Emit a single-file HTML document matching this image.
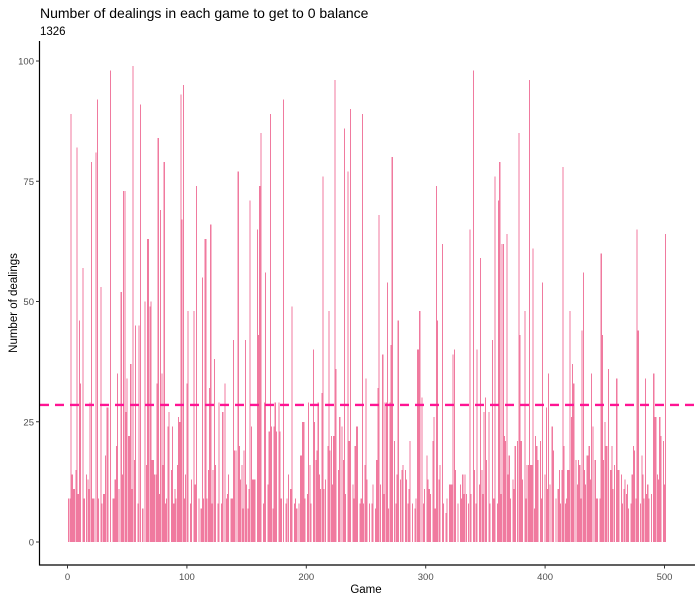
<!DOCTYPE html>
<html><head><meta charset="utf-8"><style>
body{margin:0;background:#fff;}
svg{display:block;font-family:"Liberation Sans",Arial,sans-serif;}
</style></head><body>
<svg id="chart" width="700" height="600" viewBox="0 0 700 600">
<rect width="700" height="600" fill="#fff"/>
<text x="40" y="18" font-size="14" fill="#000">Number of dealings in each game to get to 0 balance</text>
<text x="40" y="35" font-size="11.5" fill="#000">1326</text>
<text transform="translate(17,303) rotate(-90)" text-anchor="middle" font-size="11.5" fill="#000">Number of dealings</text>
<text x="366" y="593" text-anchor="middle" font-size="11.5" fill="#000">Game</text>
<g id="bars" shape-rendering="crispEdges"></g>
<g id="axes"></g>
</svg>
<script>
const seg1=[0,9,9,89,14,11,11,15,82,10,46,33,0,57,9,0,14,13,11,29,79,9,9,0,81,92,9,0,53,8,10,10,18,28,28,0,98,0,9,9,13,20,35,11,0,52,14,73,73,27,34,22,22,37,11,99,17,45,0,8,45,91,0,7,0,50,16,63,63,49,50,17,17,14,14,33,84,10,69,35,16];
const seg2=[79,8,9,24,27,0,15,24,8,11,9,16,26,25,93,67,95,9,14,33,48,0,8,13,0,48,12,74,0,9,0,7,55,9,63,63,9,15,32,66,8,15,38,16,0,8,29,0,8,27,0,33,9,10,14,0,9,9,42,19,19,0,77,20,13,16,7,19,42,12,7,11,71,24,13,13,13,0,65,43,74,85,0,8,29];
const seg3=[56,0,12,23,89,24,7,24,29,23,0,29,23,9,0,92,0,8,9,14,0,11,49,0,8,9,7,0,8,18,18,25,25,9,0,10,29,16,8,0,40,25,17,19,29,14,11,31,76,11,13,0,20,48,19,22,12,22,96,36,0,15,26,0,24,17,86,10,0,77,21,90,0,12,9,20,24,24,0,8,9,89,8,16];
const seg4=[34,13,0,8,0,8,12,0,7,17,32,68,12,0,39,10,29,29,54,7,29,41,80,0,21,8,14,46,0,13,15,16,0,15,13,8,11,21,0,8,0,7,9,40,40,48,0,30,8,11,0,18,13,11,10,0,21,26,7,74,46,13,16,0,62,8,0,6,9,0,12,12,12,39,40,15,0,8,0,12,9,14,10,14];
const seg5=[10,0,8,65,10,0,98,15,8,40,0,12,59,15,10,27,30,17,0,27,8,0,42,9,76,0,8,71,79,10,62,62,22,21,64,14,18,9,0,13,11,20,0,21,85,43,21,13,0,48,9,16,16,96,16,16,61,7,22,20,17,0,21,9,54,0,14,28,11,35,12,0,24,19,0,9,0,11,15,8,15,78,20,8];
const seg6=[9,15,15,48,26,37,33,0,17,12,17,16,9,44,56,15,12,18,18,20,13,35,24,0,17,9,9,0,9,60,43,17,25,20,20,36,0,15,20,11,16,0,34,15,15,0,14,8,11,13,10,12,7,0,8,14,20,19,9,65,44,0,8,18,14,9,34,10,12,9,0,10,0,35,26,26,14,13,26,22,0,21,12,64];
const dealings=[].concat(seg1,seg2,seg3,seg4,seg5,seg6);
const meanValue=28.5;
const yTicks=[0,25,50,75,100];
const xTicks=[0,100,200,300,400,500];

const NS="http://www.w3.org/2000/svg";
const x0=67.5, xs=1.194, y0=542, ys=4.81;
const X=g=>x0+g*xs;
const Y=v=>y0-v*ys;
const bars=document.getElementById('bars');
const axes=document.getElementById('axes');
function mk(tag,attrs,parent){const e=document.createElementNS(NS,tag);for(const k in attrs)e.setAttribute(k,attrs[k]);parent.appendChild(e);return e;}
dealings.forEach((v,i)=>{
  if(v<=0)return;
  const r=mk('rect',{x:X(i)-0.45*xs,y:Y(v),width:0.9*xs,height:v*ys,fill:'#F07A9F'},bars);
  
  
});
const ml=mk('line',{x1:40,x2:695,y1:Y(meanValue),y2:Y(meanValue),stroke:'#FF1493','stroke-width':2.3,'stroke-dasharray':'9,6'},axes);


const ya=mk('line',{x1:39.5,x2:39.5,y1:41,y2:565.5,stroke:'#000','stroke-width':1.2},axes);


const xa=mk('line',{x1:39,x2:695,y1:565,y2:565,stroke:'#000','stroke-width':1.2},axes);


yTicks.forEach(t=>{
  const tk=mk('line',{x1:36,x2:39.5,y1:Y(t),y2:Y(t),stroke:'#333','stroke-width':1},axes);
  
  
  const tl=mk('text',{x:34,y:Y(t)+3.5,'text-anchor':'end','font-size':9.5,fill:'#4D4D4D'},axes);
  tl.textContent=t;
  
  
});
xTicks.forEach(t=>{
  const tk=mk('line',{x1:X(t),x2:X(t),y1:565,y2:568.5,stroke:'#333','stroke-width':1},axes);
  
  
  const tl=mk('text',{x:X(t),y:580,'text-anchor':'middle','font-size':9.5,fill:'#4D4D4D'},axes);
  tl.textContent=t;
  
  
});
</script>
</body></html>
